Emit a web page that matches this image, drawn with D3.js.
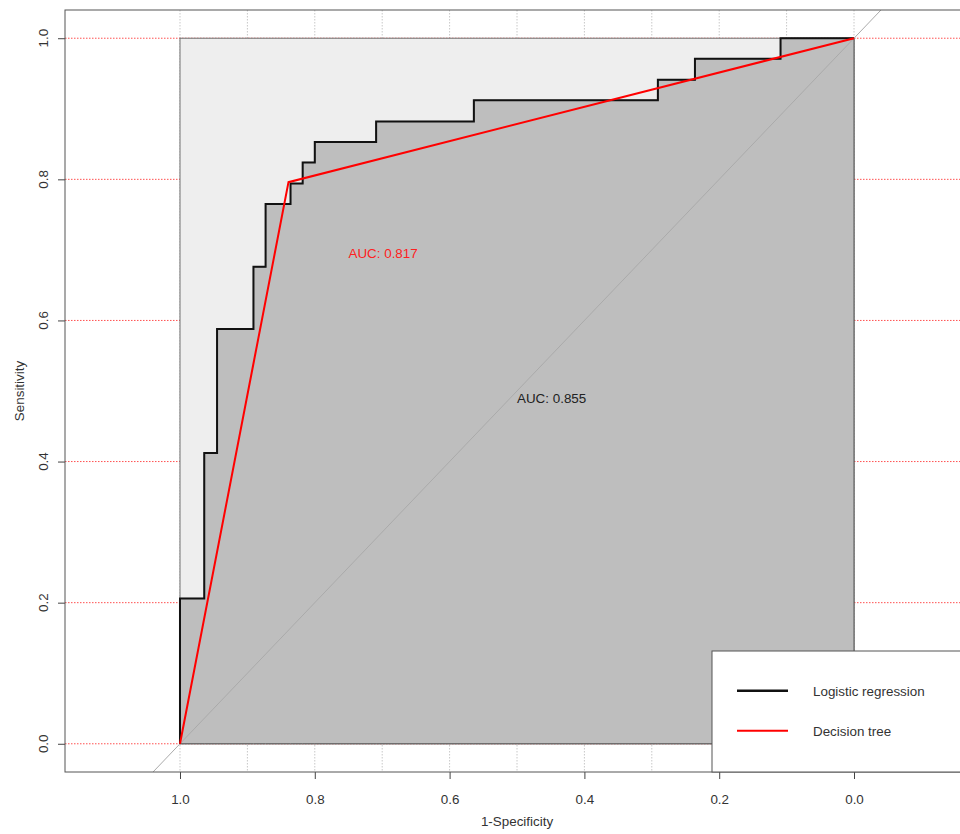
<!DOCTYPE html>
<html>
<head>
<meta charset="utf-8">
<script src="https://cdn.jsdelivr.net/npm/d3@7"></script>
<style>
    body { margin: 0; background: #fff; }
    text { font-family: "Liberation Sans", Arial, sans-serif; }
</style>
</head>
<body>
<svg id="roc" width="960" height="834"></svg>
<script>
/*************************************************************************************************************
 * Data (specificity / sensitivity pairs)
 *************************************************************************************************************/
let logitSpec = [1, 1, 0.964, 0.964, 0.945, 0.945, 0.891, 0.891, 0.873, 0.873, 0.836, 0.836, 0.818, 0.818,
    0.8, 0.8, 0.709, 0.709, 0.564, 0.564, 0.291, 0.291, 0.236, 0.236, 0.109, 0.109, 0];
let logitSens = [0, 0.206, 0.206, 0.412, 0.412, 0.588, 0.588, 0.676, 0.676, 0.765, 0.765, 0.794, 0.794, 0.824,
    0.824, 0.853, 0.853, 0.882, 0.882, 0.912, 0.912, 0.941, 0.941, 0.971, 0.971, 1, 1];

let treeSpec = [1, 0.839, 0];
let treeSens = [0, 0.796, 1];

let aucLabels = [
    {text: 'AUC: 0.855', spec: 0.5, sens: 0.5, color: '#222'},
    {text: 'AUC: 0.817', spec: 0.75, sens: 0.705, color: '#ff2020'}
];

let xTicks = [1.0, 0.8, 0.6, 0.4, 0.2, 0.0];
let yTicks = [0.0, 0.2, 0.4, 0.6, 0.8, 1.0];
let xGrid = [1.0, 0.9, 0.8, 0.7, 0.6, 0.5, 0.4, 0.3, 0.2, 0.1, 0.0];

let legendItems = [
    {label: 'Logistic regression', color: '#111', width: 2.5},
    {label: 'Decision tree', color: '#ff0000', width: 2}
];

/*************************************************************************************************************
 * Drawing
 *************************************************************************************************************/
function renderRoc() {
    let svg = d3.select('#roc');

    let frame = {left: 65, right: 969, top: 10, bottom: 772};

    // specificity runs right to left, as in pROC
    let x = d3.scaleLinear().domain([1.1706, -0.1706]).range([frame.left, frame.right]);
    let y = d3.scaleLinear().domain([-0.04, 1.04]).range([frame.bottom, frame.top]);

    svg.append('defs').append('clipPath').attr('id', 'clip')
        .append('rect')
        .attr('x', frame.left).attr('y', frame.top)
        .attr('width', frame.right - frame.left)
        .attr('height', frame.bottom - frame.top);

    let plot = svg.append('g').attr('clip-path', 'url(#clip)');

    // grid
    plot.selectAll('.vgrid')
        .data(xGrid)
        .enter().append('line')
        .attr('x1', d => x(d)).attr('x2', d => x(d))
        .attr('y1', frame.top).attr('y2', frame.bottom)
        .attr('stroke', '#c8c8c8')
        .attr('stroke-dasharray', '1.5,1.5');

    plot.selectAll('.hgrid')
        .data(yTicks)
        .enter().append('line')
        .attr('x1', frame.left).attr('x2', frame.right)
        .attr('y1', d => y(d)).attr('y2', d => y(d))
        .attr('stroke', '#ff5050')
        .attr('stroke-dasharray', '1.5,1.5');

    // max auc square
    plot.append('rect')
        .attr('x', x(1)).attr('y', y(1))
        .attr('width', x(0) - x(1))
        .attr('height', y(0) - y(1))
        .attr('fill', '#eeeeee')
        .attr('stroke', '#707070');

    // auc polygon under the logistic curve
    let logitPoints = logitSpec.map((s, i) => [s, logitSens[i]]);
    let area = d3.area()
        .x(d => x(d[0]))
        .y0(y(0))
        .y1(d => y(d[1]));

    plot.append('path')
        .attr('d', area(logitPoints))
        .attr('fill', '#bebebe')
        .attr('stroke', '#555')
        .attr('stroke-width', 1);

    // chance diagonal
    plot.append('line')
        .attr('x1', x(1.2)).attr('y1', y(-0.2))
        .attr('x2', x(-0.2)).attr('y2', y(1.2))
        .attr('stroke', '#aaaaaa')
        .attr('stroke-width', 1);

    let line = d3.line()
        .x(d => x(d[0]))
        .y(d => y(d[1]));

    plot.append('path')
        .attr('d', line(logitPoints))
        .attr('fill', 'none')
        .attr('stroke', '#111')
        .attr('stroke-width', 2);

    plot.append('path')
        .attr('d', line(treeSpec.map((s, i) => [s, treeSens[i]])))
        .attr('fill', 'none')
        .attr('stroke', '#ff0000')
        .attr('stroke-width', 2);

    // auc text, top-left anchored at the given point
    svg.selectAll('.auc')
        .data(aucLabels)
        .enter().append('text')
        .attr('x', d => x(d.spec))
        .attr('y', d => y(d.sens) + 12)
        .attr('font-size', '13.4px')
        .attr('fill', d => d.color)
        .text(d => d.text);

    // axes
    let xAxis = svg.append('g')
        .attr('transform', 'translate(0,' + frame.bottom + ')')
        .call(d3.axisBottom(x).tickValues(xTicks).tickSize(7).tickPadding(15).tickFormat(d3.format('.1f')));
    xAxis.select('.domain').remove();
    xAxis.selectAll('line').attr('stroke', '#444');
    xAxis.selectAll('text').attr('font-size', '13.4px').attr('fill', '#333')
        .attr('font-family', '"Liberation Sans", Arial, sans-serif');

    let yAxis = svg.append('g')
        .attr('transform', 'translate(' + frame.left + ',0)')
        .call(d3.axisLeft(y).tickValues(yTicks).tickSize(7).tickFormat(''));
    yAxis.select('.domain').remove();
    yAxis.selectAll('line').attr('stroke', '#444');

    svg.selectAll('.ylab')
        .data(yTicks)
        .enter().append('text')
        .attr('transform', d => 'translate(48,' + y(d) + ') rotate(-90)')
        .attr('text-anchor', 'middle')
        .attr('font-size', '13.4px')
        .attr('fill', '#333')
        .text(d => d3.format('.1f')(d));

    // frame
    svg.append('rect')
        .attr('x', frame.left).attr('y', frame.top)
        .attr('width', frame.right - frame.left)
        .attr('height', frame.bottom - frame.top)
        .attr('fill', 'none')
        .attr('stroke', '#555');

    // axis titles
    svg.append('text')
        .attr('x', (frame.left + frame.right) / 2)
        .attr('y', 826)
        .attr('text-anchor', 'middle')
        .attr('font-size', '13.4px')
        .attr('fill', '#333')
        .text('1-Specificity');

    svg.append('text')
        .attr('transform', 'translate(24,' + (frame.top + frame.bottom) / 2 + ') rotate(-90)')
        .attr('text-anchor', 'middle')
        .attr('font-size', '13.4px')
        .attr('fill', '#333')
        .text('Sensitivity');

    // legend
    let legend = svg.append('g');
    legend.append('rect')
        .attr('x', 712).attr('y', 651)
        .attr('width', frame.right - 712)
        .attr('height', frame.bottom - 651)
        .attr('fill', '#fff')
        .attr('stroke', '#555');

    let item = legend.selectAll('.item')
        .data(legendItems)
        .enter().append('g')
        .attr('transform', (d, i) => 'translate(0,' + (690.7 + i * 40) + ')');

    item.append('line')
        .attr('x1', 737).attr('x2', 788)
        .attr('stroke', d => d.color)
        .attr('stroke-width', d => d.width);

    item.append('text')
        .attr('x', 813)
        .attr('y', 5)
        .attr('font-size', '13.4px')
        .attr('fill', '#333')
        .text(d => d.label);
}

(function () {
    'use strict';
    renderRoc();
}());
</script>
</body>
</html>
